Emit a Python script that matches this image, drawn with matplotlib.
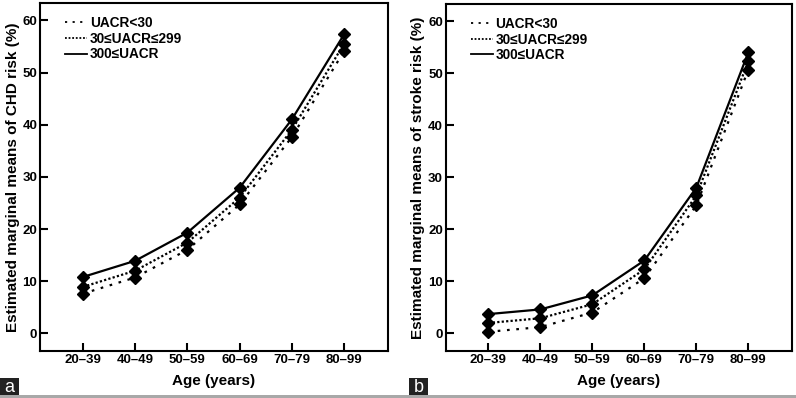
import numpy as np
import matplotlib.pyplot as plt
from matplotlib.patches import Rectangle

plt.rcParams['font.family'] = ['Liberation Sans', 'DejaVu Sans']
plt.rcParams['font.weight'] = 'bold'

ages = ["20\u201339", "40\u201349", "50\u201359", "60\u201369", "70\u201379", "80\u201399"]
labels = ["UACR<30", "30\u2264UACR\u2264299", "300\u2264UACR"]

chd_low = [7.6, 10.7, 16.0, 24.7, 37.6, 54.1]
chd_mid = [8.9, 12.0, 17.4, 26.0, 39.0, 55.5]
chd_high = [10.8, 13.9, 19.3, 27.9, 41.0, 57.3]

stroke_low = [0.3, 1.2, 4.0, 10.6, 24.6, 50.7]
stroke_mid = [2.0, 2.9, 5.6, 12.3, 26.5, 52.3]
stroke_high = [3.7, 4.6, 7.3, 14.0, 28.0, 54.0]

styles = [(0, (1.2, 3.0)), (0, (1.0, 1.0)), '-']

fig = plt.figure(figsize=(7.96, 3.98), dpi=100)
ax_a = fig.add_axes([0.0503, 0.118, 0.437, 0.874])
ax_b = fig.add_axes([0.560, 0.118, 0.435, 0.872])

x = np.arange(1, len(ages) + 1)

panels = [
    (ax_a, [chd_low, chd_mid, chd_high], "Estimated marginal means of CHD risk (%)"),
    (ax_b, [stroke_low, stroke_mid, stroke_high], "Estimated marginal means of stroke risk (%)"),
]

for ax, series, ylab in panels:
    for ys, ls, lab in zip(series, styles, labels):
        ax.plot(x, ys, color='black', linestyle=ls, linewidth=1.6,
                marker='D', markersize=6, label=lab)
    ax.set_xlim(0.18, 6.84)
    ax.set_ylim(-3.4, 63.3)
    ax.set_xticks(x)
    ax.set_xticklabels(ages)
    ax.set_yticks([0, 10, 20, 30, 40, 50, 60])
    ax.tick_params(direction='in', length=6, width=1.5, labelsize=9.5, pad=2)
    for sp in ax.spines.values():
        sp.set_linewidth(1.5)
    ax.set_xlabel("Age (years)", fontsize=11, fontweight='bold', labelpad=6)
    ax.set_ylabel(ylab, fontsize=11, fontweight='bold', labelpad=2)
    leg = ax.legend(loc='upper left', bbox_to_anchor=(0.045, 0.99), frameon=False,
                    fontsize=9.8, handlelength=1.6, handletextpad=0.2,
                    labelspacing=0.12, borderaxespad=0.3, markerscale=0)
    for h in leg.legend_handles:
        h.set_marker('')
        h.set_linewidth(1.3)

# panel letters
for px, letter in [(0.0, 'a'), (0.514, 'b')]:
    fig.patches.append(Rectangle((px, 0.005), 0.024, 0.046, transform=fig.transFigure,
                                 facecolor='#222222', edgecolor='none'))
    fig.text(px + 0.012, 0.027, letter, color='white', fontsize=13, fontweight='normal',
             ha='center', va='center')

# bottom gray band
fig.patches.append(Rectangle((0, 0), 1, 0.007, transform=fig.transFigure,
                             facecolor='#a8a8a8', edgecolor='none'))

fig.savefig('out.png', dpi=100)
